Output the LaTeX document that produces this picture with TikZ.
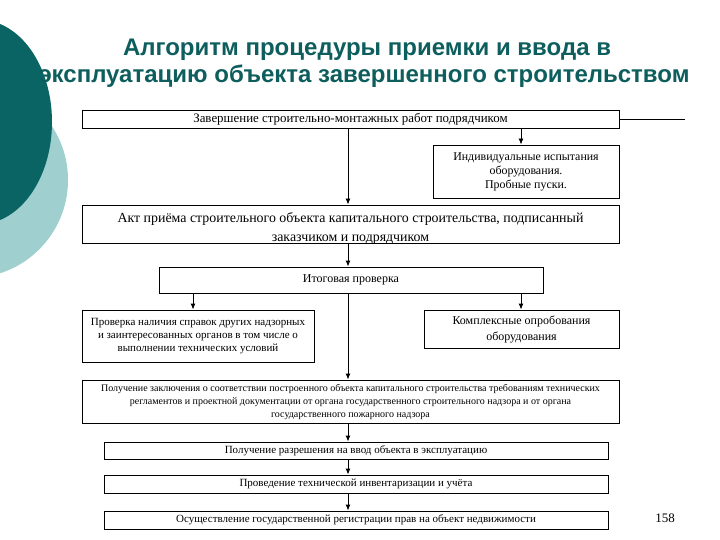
\documentclass[tikz,border=0pt]{standalone}
\usepackage{fontspec}
\setmainfont{Liberation Serif}
\newfontfamily\titlefont{Liberation Sans}
\usetikzlibrary{arrows.meta}
\definecolor{darkteal}{HTML}{0A6464}
\definecolor{lightteal}{HTML}{9FCFCF}
\definecolor{titleteal}{HTML}{0E5E5E}
\begin{document}
\begin{tikzpicture}[x=1pt,y=-1pt,
  box/.style={draw=black, line width=0.9pt, inner sep=0pt, align=center, fill=white},
  arr/.style={-{Latex[length=6pt,width=5pt]}, line width=0.9pt},
  ln/.style={line width=0.9pt},
  ttl/.style={font=\titlefont\bfseries\fontsize{24}{27}\selectfont, text=titleteal, anchor=base, inner sep=0pt}]
\useasboundingbox (0,0) rectangle (720,540);
\fill[white] (0,0) rectangle (720,540);
\begin{scope}
\clip (0,0) rectangle (720,540);
\fill[lightteal] (-30,180) circle[radius=98];
\fill[darkteal] (-20,122) ellipse[x radius=72, y radius=102];
\end{scope}

\node[ttl] (t1) at (367,56) {Алгоритм процедуры приемки и ввода в};
\node[ttl] (t2) at (364,83) {эксплуатацию объекта завершенного строительством};

\node[box, minimum width=537pt, minimum height=18pt, font=\fontsize{12.9}{14}\selectfont] (b1) at (350.5,119) {Завершение строительно-монтажных работ подрядчиком};
\node[box, minimum width=186pt, minimum height=53pt, font=\fontsize{11.9}{14}\selectfont] (ind) at (526,171.5) {Индивидуальные испытания\\оборудования.\\Пробные пуски.};
\node[box, minimum width=537pt, minimum height=36pt, font=\fontsize{13.9}{19}\selectfont] (akt) at (350.5,224) {\raisebox{-4pt}[\height][\depth]{\begin{tabular}{@{}c@{}}Акт приёма строительного объекта капитального строительства, подписанный\\заказчиком и подрядчиком\end{tabular}}};
\node[box, minimum width=384pt, minimum height=26pt, font=\fontsize{12}{13}\selectfont] (itog) at (351,280) {Итоговая проверка};
\node[box, minimum width=232pt, minimum height=52pt, font=\fontsize{11}{13}\selectfont] (lbox) at (198,336) {Проверка наличия справок других надзорных\\и заинтересованных органов в том числе о\\выполнении технических условий};
\node[box, minimum width=195pt, minimum height=38pt, font=\fontsize{12}{16}\selectfont] (rbox) at (521.5,329) {Комплексные опробования\\оборудования};
\node[box, minimum width=537pt, minimum height=43pt, font=\fontsize{10}{13}\selectfont] (zakl) at (350.5,401.5) {Получение заключения о соответствии построенного объекта капитального строительства требованиям технических\\регламентов и проектной документации от органа государственного строительного надзора и от органа\\государственного пожарного надзора};
\node[box, minimum width=504pt, minimum height=17pt, font=\fontsize{11}{12}\selectfont] (razr) at (356,450.5) {Получение разрешения на ввод объекта в эксплуатацию};
\node[box, minimum width=504pt, minimum height=18pt, font=\fontsize{11}{12}\selectfont] (prov) at (356,484) {Проведение технической инвентаризации и учёта};
\node[box, minimum width=504pt, minimum height=18pt, font=\fontsize{11}{12}\selectfont] (osu) at (356,520) {Осуществление государственной регистрации прав на объект недвижимости};
\node[font=\fontsize{13}{15}\selectfont] (pg) at (665,518) {158};

\coordinate (xa) at (348,0);
\coordinate (xr) at (521,0);
\coordinate (xl) at (193,0);
\coordinate (tail) at (685,119);

\draw[ln] (b1.east) -- (tail);
\draw[arr] (b1.south -| xa) -- (akt.north -| xa);
\draw[arr] (b1.south -| xr) -- (ind.north -| xr);
\draw[arr] (akt.south -| xa) -- (itog.north -| xa);
\draw[arr] (itog.south -| xl) -- (lbox.north -| xl);
\draw[arr] (itog.south -| xa) -- (zakl.north -| xa);
\draw[arr] (itog.south -| xr) -- (rbox.north -| xr);
\draw[arr] (zakl.south -| xa) -- (razr.north -| xa);
\draw[arr] (razr.south -| xa) -- (prov.north -| xa);
\draw[arr] (prov.south -| xa) -- (osu.north -| xa);
\end{tikzpicture}
\end{document}
